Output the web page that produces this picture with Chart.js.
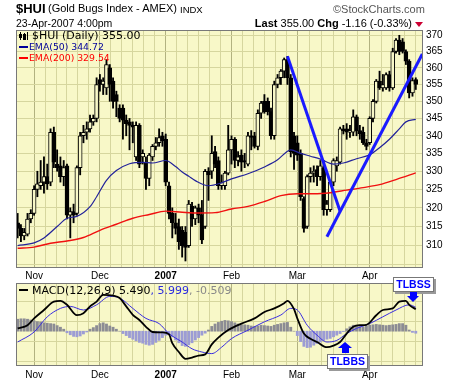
<!DOCTYPE html>
<html>
<head>
<meta charset="utf-8">
<script src="https://cdn.jsdelivr.net/npm/chart.js@4.4.1/dist/chart.umd.min.js"></script>
<style>
html,body{margin:0;padding:0;background:#fff}
body{position:relative;width:460px;height:383px;overflow:hidden;font-family:"Liberation Sans",Arial,sans-serif;color:#000}
canvas{position:absolute;left:0}
#main{top:0}
#macdc{top:280px}
.t{position:absolute;white-space:nowrap;line-height:1}
.leg{font-family:"DejaVu Sans",Verdana,sans-serif;font-size:11px}
.leg2{font-family:"DejaVu Sans",Verdana,sans-serif;font-size:9.3px}
.sw{position:absolute;height:2px;width:9px}
.box{position:absolute;background:#fff;border:1px solid #777;box-shadow:2px 2px 0 #999;color:#00f;font-weight:bold;font-size:10.5px;text-align:center;line-height:13px;font-family:"Liberation Sans",Arial,sans-serif}
.abs{position:absolute}
</style>
</head>
<body>
<canvas id="main" width="460" height="280"></canvas>
<canvas id="macdc" width="460" height="103"></canvas>

<div class="t" style="left:16px;top:2px;font-size:13px;font-weight:bold">$HUI</div>
<div class="t" style="left:48px;top:3px;font-size:11px">(Gold Bugs Index - AMEX)</div>
<div class="t" style="left:180px;top:5px;font-size:9.5px">INDX</div>
<div class="t" style="left:333px;top:4px;font-size:11px;color:#555">©StockCharts.com</div>
<div class="t" style="left:16px;top:18px;font-size:10.5px">23-Apr-2007 4:00pm</div>
<div class="t" style="right:48px;top:18px;font-size:11px"><b>Last</b> 355.00 <b>Chg</b> -1.16 (-0.33%)</div>
<div class="abs" style="left:415px;top:22px;width:0;height:0;border-left:4px solid transparent;border-right:4px solid transparent;border-top:5px solid #c03"></div>

<!-- main legend -->
<div class="abs" style="left:20px;top:32px;width:1px;height:8px;background:#000"></div>
<div class="abs" style="left:19px;top:34px;width:3px;height:4px;background:#000"></div>
<div class="abs" style="left:24px;top:33px;width:1px;height:7px;background:#000"></div>
<div class="abs" style="left:23px;top:34px;width:1px;height:4px;border:1px solid #000"></div>
<div class="abs" style="left:27px;top:32px;width:1px;height:8px;background:#000"></div>
<div class="t leg" style="left:32px;top:30px">$HUI (Daily) 355.00</div>
<div class="sw" style="left:19px;top:46px;background:#00009a"></div>
<div class="t leg2" style="left:29px;top:42px;color:#00009a">EMA(50) 344.72</div>
<div class="sw" style="left:19px;top:57px;background:#f00"></div>
<div class="t leg2" style="left:29px;top:53px;color:#f00">EMA(200) 329.54</div>

<!-- macd legend -->
<div class="sw" style="left:19px;top:289px;background:#000"></div>
<div class="t leg" style="left:32px;top:285px">MACD(12,26,9) 5.490<span style="color:#2a2ae0">, 5.999</span><span style="color:#888">, -0.509</span></div>

<!-- annotations -->
<div class="box" style="left:393px;top:277px;width:39px;height:13px">TLBSS</div>
<div class="abs" style="left:410px;top:292px;width:7px;height:4px;background:#00f"></div>
<div class="abs" style="left:407px;top:296px;width:0;height:0;border-left:6.5px solid transparent;border-right:6.5px solid transparent;border-top:6px solid #00f"></div>
<div class="abs" style="left:338px;top:342px;width:0;height:0;border-left:7px solid transparent;border-right:7px solid transparent;border-bottom:6px solid #00f"></div>
<div class="abs" style="left:341.5px;top:348px;width:7px;height:5px;background:#00f"></div>
<div class="box" style="left:327px;top:354px;width:39px;height:13px">TLBBS</div>

<script>
// ---------------- DATA ----------------
const monthLabels = ['Nov','Dec','2007','Feb','Mar','Apr'];
const monthStart  = [5, 25, 45, 65, 85, 107];

const open  = [316,314.5,312.5,313,317,318.5,325,326,327,328.5,327,341,332,331.5,328.5,331.5,318,319,318.5,331,
  340,341,342,344,345,356.5,355,354,360,356,352,348,348,344.5,344,343,334,343,334,332.5,
  328,334,337,338,340,339,326,318.5,316,315,314,313.5,310,320.5,317,320,318,315,330,330,
  335.5,333,326,326,329.5,336,339,333,334.5,333,332,340,340,337,346.5,350,350,347,340,355,
  357,359,362.5,357,340,338,335,322.5,315,328.5,329.5,330.5,328.5,331,319.5,319.5,327,331.5,332.5,342,
  342,341,341,345.5,341.5,341,338,338,345,350,356,354,354,358,354,365,368.5,368,365,362,
  352.5,356.5];
const high  = [318.5,315.5,314.5,318.5,319.5,326,330,333,334,332,342,342.5,336,334,333,332,320,321,331.5,341,
  343,344,346,346,357,358,357,362.5,361,357,353,349,349,346,345,344,344,343.5,336,334,
  335,337.5,339.5,342,341,340.5,327,320,318.5,317,315,315,322,321.5,320.5,321,322,330.5,331,340,
  337,334,329,330,343,340,339.5,335.5,336,335,341,341.5,341,347.5,350,352,351,348,356,358,
  359.5,363,363.5,358,341,340,336,323,329,331,331.5,331.5,333,333,322,327.5,333.5,334,342.5,343,
  343.5,343,347.5,346,343,342.5,339,345.5,350.5,356.5,359,358,358.5,359,366,369,370,369,365.5,362.5,
  357,357];
const low   = [312,311,311.5,312.5,316,318,323,325,324,325,326,331,330,327,326,317,312,316,318,329,
  338,339,341,343,344,353,352,352,350,348,345.5,344,339,340,336,338,333,331,332,325,
  326,333,336,337,337,326,317,312,313,309,307,306,309.5,315,315.5,316,310.5,314.5,322,328,
  331,325,325,325,329,332,331,331.5,330,331,331.5,336,336.5,336,345,346.5,346,339,339,354,
  355,357,355,334,330.5,333,322,313.5,314.5,327,327,326,327.5,318,318,319,326,330,332,340.5,
  339,339.5,340,340,339,337.5,336,337.5,344,349.5,353.5,353,353.5,353,353.5,364.5,364,364.5,361,351,
  351.5,353.5];
const close = [314.5,312.5,313.5,317,318.5,325,326.5,327,328.5,326.5,341,332.5,331,328.5,331,318,319,318,331,340,
  341,342,344,345,355,355,356,361,355,350,350,345,344.5,343.5,343,342.5,343,332,335,328,
  334.5,337,338,339.5,338.5,327,318.5,316,314.5,311,310,309.5,321,317,320,318,311.5,330,329,335,
  332,326,327,329.5,336,339,333,334,332.5,332.5,340,339.5,337,346.5,349.5,347,347,340,355,357,
  359,362.5,357,335.5,335,334.5,323,314.5,328.5,329.5,330,328.5,331.5,319.5,321,327,333,333,342,341.5,
  341,341.5,345.5,341.5,340.5,338,337,345,350,356,354,355,358,354,365,368.5,365,365,362,352.5,
  356.2,355];

const ema50Idx = [0,5,8,12,15,18,22,24,27,30,34,38,41,45,48,50,52,54,58,62,65,70,75,79,82,83,86,89,92,96,99,103,107,110,113,116,118,121];
const ema50    = [310.0,310.7,312.0,315.0,317.2,317.7,320.3,323.0,327.5,330.2,332.1,332.5,332.3,333.0,331.3,329.8,328.6,327.4,326.0,326.8,
  327.9,329.3,331.2,333.2,335.6,336.0,335.0,334.2,333.4,332.0,332.3,333.5,334.6,336.6,339.0,342.0,344.0,344.72];
const ema200Idx = [0,5,10,15,20,25,30,35,40,45,50,55,60,65,70,75,80,85,90,95,100,105,110,115,121];
const ema200    = [309.3,309.6,310.6,311.2,312.1,314.0,315.6,317.2,318.2,319.1,318.8,318.6,318.7,319.7,320.4,321.7,323.3,323.8,323.8,324.1,324.8,325.5,326.3,327.7,329.54];

// hand drawn trend lines (bar index, price)
const trend1Idx = [82, 98];   const trend1Val = [363.5, 319.1];
const trend2Idx = [94, 123];  const trend2Val = [312.3, 364.2];

const macdIdx = [0,3,5,8,11,13,15,18,20,22,24,26,29,31,33,35,37,39,41,44,46,47,49,51,53,55,57,59,61,64,68,72,75,78,81,82,84,85,87,89,91,94,96,98,100,102,104,106,109,111,114,116,118,119,121];
const macd    = [0.7,1.5,3.2,5.3,7.4,7.6,6.6,4.0,4.5,6.2,7.4,9.1,8.9,8.3,6.2,4.1,2.8,1.1,-0.2,-0.3,-0.8,-3.0,-5.2,-6.9,-6.6,-6.1,-5.8,-3.3,-1.6,0.3,
  1.9,3.2,4.8,5.7,7.0,7.6,5.5,3.2,-0.6,-1.9,-2.7,-4.0,-3.6,-2.7,-0.6,1.1,1.5,1.6,4.0,5.3,5.7,7.4,7.6,6.6,5.49];
const signalIdx = [0,5,9,13,16,20,24,28,31,35,39,43,46,50,53,56,59,62,65,70,75,80,83,85,88,91,94,97,100,103,107,111,115,119,121];
const signal    = [-2.7,-0.2,3.6,5.7,6.2,5.3,6.6,8.7,8.3,5.7,3.2,1.9,-0.6,-2.7,-4.4,-5.2,-5.6,-4.0,-1.85,0.25,
  2.35,4.05,5.7,5.3,1.5,-1.0,-2.7,-2.3,-0.6,0.7,1.9,3.6,5.3,6.6,5.999];
const hist = [3.0,3.1,3.1,3.0,2.8,2.6,2.4,2.3,2.1,2.0,1.9,1.8,1.4,1.0,0.5,-0.4,-0.9,-1.3,-1.4,-1.2,
  -0.7,-0.2,0.5,0.9,1.4,1.9,2.1,1.8,1.3,1.0,0.5,0.0,-0.6,-1.1,-1.6,-2.0,-2.4,-2.8,-3.0,-3.3,
  -3.5,-3.3,-2.8,-2.3,-1.6,-1.0,-0.9,-1.4,-2.2,-2.9,-3.6,-3.8,-3.4,-2.9,-2.2,-1.6,-1.0,-0.5,0.3,1.2,
  1.8,2.2,2.5,2.7,2.6,2.4,2.1,1.8,1.6,1.6,1.5,1.3,1.2,1.3,1.5,1.4,1.3,1.2,1.5,1.7,
  1.9,2.1,2.2,1.0,0.0,-1.1,-2.6,-3.8,-4.1,-4.0,-3.5,-3.1,-2.7,-2.3,-2.0,-1.8,-1.4,-1.0,-0.6,-0.1,
  0.6,1.1,1.5,1.4,1.2,1.1,1.3,1.5,1.6,1.7,1.6,1.5,1.4,1.5,1.6,1.7,1.9,1.9,1.5,0.3,
  -0.3,-0.509];

const priceTicks = [310,315,320,325,330,335,340,345,350,355,360,365,370];
const macdTicks  = [-5,0,5,10];

// ---------------- STYLE ----------------
const BG = 'rgb(248,248,200)';
const GRID = 'rgb(214,214,158)';
const GRID_MAJ = 'rgb(178,178,128)';
const BORDER = 'rgb(120,120,120)';
const X_MIN = -0.5, X_MAX = 123.2;

const frame = {
  id: 'frame',
  beforeDraw(ch) {
    const a = ch.chartArea, c = ch.ctx;
    c.save(); c.fillStyle = BG; c.fillRect(a.left, a.top, a.right - a.left, a.bottom - a.top); c.restore();
  },
  afterDraw(ch) {
    const a = ch.chartArea, c = ch.ctx;
    c.save(); c.strokeStyle = BORDER; c.lineWidth = 1;
    c.strokeRect(Math.round(a.left) + 0.5, Math.round(a.top) + 0.5, Math.round(a.right - a.left) - 1, Math.round(a.bottom - a.top) - 1);
    c.restore();
  }
};

function xTicks() {
  const t = [];
  for (let k = 0; k < monthStart.length; k++) {
    const s = monthStart[k];
    const n = k + 1 < monthStart.length ? monthStart[k + 1] : s + 21;
    t.push({ value: s, major: true, name: monthLabels[k] });
    for (let j = 1; j < 6; j++) {
      const v = s + (n - s) * j / 6;
      if (v < X_MAX) t.push({ value: v, major: false, name: '' });
    }
  }
  return t;
}

function xScale(h, pad) {
  return {
    type: 'linear', min: X_MIN, max: X_MAX, offset: false,
    afterBuildTicks: s => { s.ticks = xTicks(); },
    afterFit: s => { s.height = h; s.paddingLeft = 0; s.paddingRight = 0; },
    grid: { drawTicks: false, offset: false, color: c => (c.tick && c.tick.major) ? GRID_MAJ : GRID, lineWidth: 1 },
    border: { display: false },
    ticks: {
      autoSkip: false, maxRotation: 0, padding: pad, color: '#000',
      font: c => ({ family: 'Liberation Sans', size: 10, weight: (c.tick && c.tick.name === '2007') ? 'bold' : 'normal' }),
      callback: (v, i, t) => (t[i] && t[i].name) || ''
    }
  };
}

// ---------------- MAIN CHART ----------------
const idx = close.map((_, i) => i);
const wickData = idx.map(i => ({ x: i, y: [low[i], high[i]] }));
const bodyData = idx.map(i => ({ x: i, y: [Math.min(open[i], close[i]), Math.max(open[i], close[i])] }));
const bodyFill = idx.map(i => close[i] < open[i] ? '#000' : BG);
const pts = (ix, vals) => ix.map((x, k) => ({ x: x, y: vals[k] }));

new Chart(document.getElementById('main'), {
  type: 'bar',
  data: {
    datasets: [
      { type: 'line', data: pts(trend1Idx, trend1Val), borderColor: '#1a1aff', borderWidth: 3, pointRadius: 0, order: 0 },
      { type: 'line', data: pts(trend2Idx, trend2Val), borderColor: '#1a1aff', borderWidth: 3, pointRadius: 0, order: 0 },
      { type: 'line', data: pts(ema50Idx, ema50), borderColor: '#22229a', borderWidth: 1.2, pointRadius: 0, cubicInterpolationMode: 'monotone', order: 1 },
      { type: 'line', data: pts(ema200Idx, ema200), borderColor: '#f01010', borderWidth: 1.4, pointRadius: 0, cubicInterpolationMode: 'monotone', order: 1 },
      { type: 'bar', data: bodyData, backgroundColor: bodyFill, borderColor: '#000', borderWidth: 1, borderSkipped: false, barThickness: 4, grouped: false, order: 2 },
      { type: 'bar', data: wickData, backgroundColor: '#000', borderWidth: 0, barThickness: 1.2, grouped: false, order: 3 }
    ]
  },
  options: {
    responsive: false, animation: false, events: [],
    layout: { padding: { left: 16, top: 30, right: 0, bottom: 0 } },
    plugins: { legend: { display: false }, tooltip: { enabled: false } },
    scales: {
      x: xScale(12, 2),
      y: {
        type: 'logarithmic', position: 'right', min: 304.2, max: 371.65,
        afterBuildTicks: s => { const t = []; for (let v = 305; v <= 370; v += 2.5) t.push({ value: v }); s.ticks = t; },
        afterFit: s => { s.width = 37; s.paddingTop = 0; s.paddingBottom = 0; },
        grid: { drawTicks: false, color: GRID },
        border: { display: false },
        ticks: { padding: 3, color: '#000', font: { family: 'Liberation Sans', size: 10 },
          callback: v => priceTicks.includes(v) ? String(v) : '' }
      }
    }
  },
  plugins: [frame]
});

// ---------------- MACD CHART ----------------
new Chart(document.getElementById('macdc'), {
  type: 'bar',
  data: {
    datasets: [
      { type: 'line', data: pts(macdIdx, macd), borderColor: '#000', borderWidth: 1.8, pointRadius: 0, cubicInterpolationMode: 'monotone', order: 0 },
      { type: 'line', data: pts(signalIdx, signal), borderColor: '#3a2ee0', borderWidth: 1, pointRadius: 0, cubicInterpolationMode: 'monotone', order: 1 },
      { type: 'bar', data: idx.map(i => ({ x: i, y: hist[i] })), backgroundColor: idx.map(i => hist[i] >= 0 ? 'rgb(140,140,148)' : 'rgb(156,156,212)'),
        borderWidth: 0, barThickness: 2.2, grouped: false, order: 2 }
    ]
  },
  options: {
    responsive: false, animation: false, events: [],
    layout: { padding: { left: 16, top: 3, right: 0, bottom: 0 } },
    plugins: { legend: { display: false }, tooltip: { enabled: false } },
    scales: {
      x: xScale(17, 3),
      y: {
        type: 'linear', position: 'right', min: -8.7, max: 12.05,
        afterBuildTicks: s => { const t = []; for (let v = -7.5; v <= 10; v += 2.5) t.push({ value: v }); s.ticks = t; },
        afterFit: s => { s.width = 37; s.paddingTop = 0; s.paddingBottom = 0; },
        grid: { drawTicks: false, color: GRID },
        border: { display: false },
        ticks: { padding: 3, color: '#000', font: { family: 'Liberation Sans', size: 10 },
          callback: v => macdTicks.includes(v) ? String(v) : '' }
      }
    }
  },
  plugins: [frame]
});
</script>
</body>
</html>
